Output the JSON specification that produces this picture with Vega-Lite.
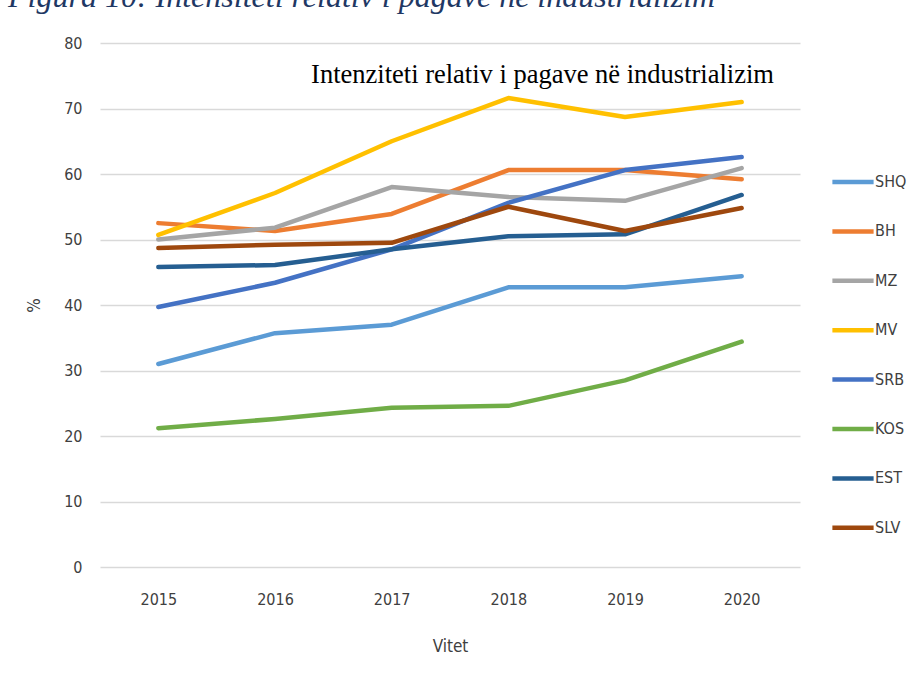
{
  "$schema": "https://vega.github.io/schema/vega-lite/v6.json",
  "width": 700,
  "height": 524,
  "autosize": {"type": "none"},
  "padding": {"left": 100, "top": 43, "right": 117, "bottom": 124},
  "background": "white",
  "title": {
    "text": "Figura 10: Intensiteti relativ i pagave në industrializim",
    "anchor": "start",
    "frame": "group",
    "dx": -92,
    "offset": -4,
    "baseline": "alphabetic",
    "font": "Liberation Serif",
    "fontStyle": "italic",
    "fontWeight": "normal",
    "fontSize": 32,
    "color": "#1F3864"
  },
  "data": {
    "values": [
      {"year": "2015", "country": "SHQ", "value": 31.0},
      {"year": "2016", "country": "SHQ", "value": 35.7},
      {"year": "2017", "country": "SHQ", "value": 37.0},
      {"year": "2018", "country": "SHQ", "value": 42.7},
      {"year": "2019", "country": "SHQ", "value": 42.7},
      {"year": "2020", "country": "SHQ", "value": 44.4},
      {"year": "2015", "country": "BH", "value": 52.5},
      {"year": "2016", "country": "BH", "value": 51.3},
      {"year": "2017", "country": "BH", "value": 53.9},
      {"year": "2018", "country": "BH", "value": 60.6},
      {"year": "2019", "country": "BH", "value": 60.6},
      {"year": "2020", "country": "BH", "value": 59.2},
      {"year": "2015", "country": "MZ", "value": 50.0},
      {"year": "2016", "country": "MZ", "value": 51.8},
      {"year": "2017", "country": "MZ", "value": 58.0},
      {"year": "2018", "country": "MZ", "value": 56.5},
      {"year": "2019", "country": "MZ", "value": 55.9},
      {"year": "2020", "country": "MZ", "value": 60.9},
      {"year": "2015", "country": "MV", "value": 50.7},
      {"year": "2016", "country": "MV", "value": 57.1},
      {"year": "2017", "country": "MV", "value": 65.0},
      {"year": "2018", "country": "MV", "value": 71.6},
      {"year": "2019", "country": "MV", "value": 68.7},
      {"year": "2020", "country": "MV", "value": 71.0},
      {"year": "2015", "country": "SRB", "value": 39.7},
      {"year": "2016", "country": "SRB", "value": 43.4},
      {"year": "2017", "country": "SRB", "value": 48.5},
      {"year": "2018", "country": "SRB", "value": 55.6},
      {"year": "2019", "country": "SRB", "value": 60.6},
      {"year": "2020", "country": "SRB", "value": 62.6},
      {"year": "2015", "country": "KOS", "value": 21.2},
      {"year": "2016", "country": "KOS", "value": 22.6},
      {"year": "2017", "country": "KOS", "value": 24.3},
      {"year": "2018", "country": "KOS", "value": 24.6},
      {"year": "2019", "country": "KOS", "value": 28.5},
      {"year": "2020", "country": "KOS", "value": 34.4},
      {"year": "2015", "country": "EST", "value": 45.8},
      {"year": "2016", "country": "EST", "value": 46.1},
      {"year": "2017", "country": "EST", "value": 48.5},
      {"year": "2018", "country": "EST", "value": 50.5},
      {"year": "2019", "country": "EST", "value": 50.8},
      {"year": "2020", "country": "EST", "value": 56.8},
      {"year": "2015", "country": "SLV", "value": 48.7},
      {"year": "2016", "country": "SLV", "value": 49.2},
      {"year": "2017", "country": "SLV", "value": 49.5},
      {"year": "2018", "country": "SLV", "value": 55.0},
      {"year": "2019", "country": "SLV", "value": 51.3},
      {"year": "2020", "country": "SLV", "value": 54.8}
    ]
  },
  "layer": [
    {
      "mark": {"type": "line", "strokeWidth": 4.5, "strokeJoin": "round", "strokeCap": "round"},
      "encoding": {
        "x": {
          "field": "year", "type": "ordinal",
          "scale": {"type": "point", "padding": 0.5},
          "axis": {
            "orient": "bottom", "title": "Vitet", "labelAngle": 0,
            "labelPadding": 24, "titlePadding": 31, "ticks": false, "domain": false, "grid": false
          }
        },
        "y": {
          "field": "value", "type": "quantitative",
          "scale": {"domain": [0, 80]},
          "axis": {
            "title": "%", "values": [0, 10, 20, 30, 40, 50, 60, 70, 80],
            "labelPadding": 18, "titlePadding": 20, "ticks": false, "domain": false,
            "grid": true, "gridColor": "#D9D9D9", "gridWidth": 1.5
          }
        },
        "color": {
          "field": "country", "type": "nominal",
          "scale": {
            "domain": ["SHQ", "BH", "MZ", "MV", "SRB", "KOS", "EST", "SLV"],
            "range": ["#5B9BD5", "#ED7D31", "#A5A5A5", "#FFC000", "#4472C4", "#70AD47", "#255E91", "#9E480E"]
          },
          "legend": {
            "title": null, "orient": "none", "legendX": 730, "legendY": 116,
            "symbolType": "stroke", "symbolSize": 1700, "symbolStrokeWidth": 4.5,
            "rowPadding": 17.4, "labelOffset": -1, "padding": 0
          }
        }
      }
    },
    {
      "mark": {"type": "line", "strokeOpacity": 0},
      "encoding": {
        "x": {
          "field": "year", "type": "ordinal",
          "axis": {
            "orient": "top", "title": "Intenziteti relativ i pagave në industrializim",
            "labels": false, "ticks": false, "domain": false, "grid": false,
            "titleX": 442, "titleY": 39, "titleAlign": "center", "titleBaseline": "alphabetic",
            "titleFont": "Liberation Serif", "titleFontWeight": "normal", "titleFontSize": 26.5,
            "titleColor": "#000000"
          }
        },
        "y": {"field": "value", "type": "quantitative"},
        "detail": {"field": "country", "type": "nominal"}
      }
    }
  ],
  "resolve": {"axis": {"x": "independent"}},
  "config": {
    "view": {"stroke": null},
    "axis": {
      "labelFont": "Liberation Sans Narrow, DejaVu Sans Condensed, sans-serif",
      "labelFontSize": 16,
      "labelColor": "#404040",
      "titleFont": "Liberation Sans Narrow, DejaVu Sans Condensed, sans-serif",
      "titleFontSize": 17,
      "titleFontWeight": "normal",
      "titleColor": "#404040"
    },
    "legend": {
      "labelFont": "Liberation Sans Narrow, DejaVu Sans Condensed, sans-serif",
      "labelFontSize": 16,
      "labelColor": "#404040"
    }
  }
}
